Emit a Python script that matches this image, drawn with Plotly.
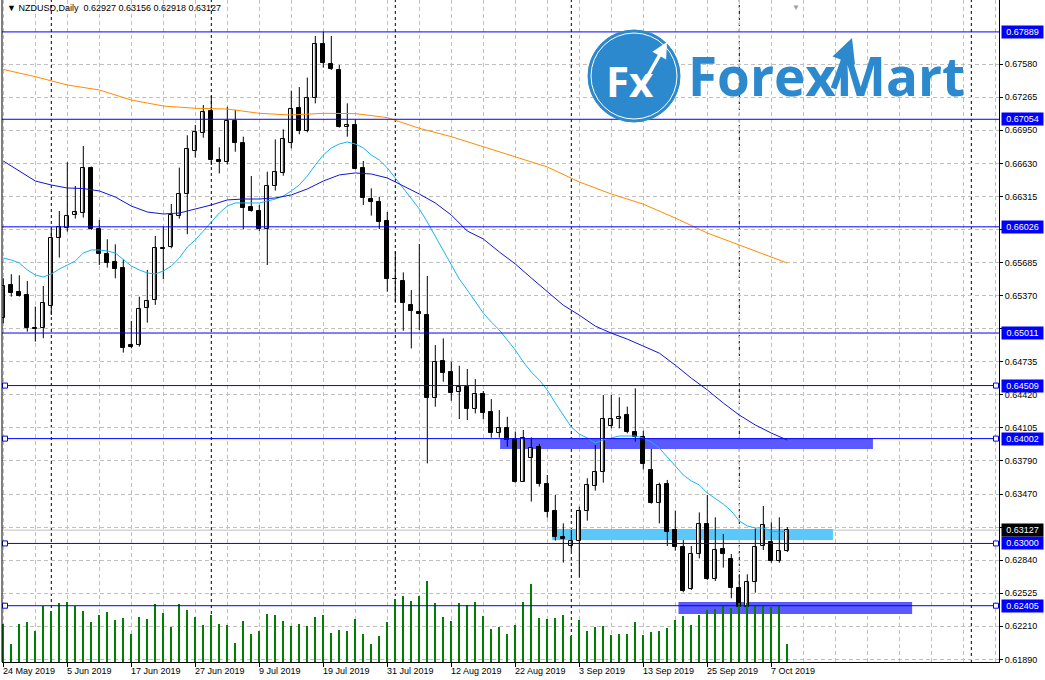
import plotly.graph_objects as go

# ---------------- data ----------------
symbol_header = "\u25BC NZDUSD,Daily  0.62927 0.63156 0.62918 0.63127"

tick_idx = [0, 8, 16, 24, 32, 40, 48, 56, 64, 72, 80, 88, 96]
tick_labels = ["24 May 2019", "5 Jun 2019", "17 Jun 2019", "27 Jun 2019", "9 Jul 2019",
               "19 Jul 2019", "31 Jul 2019", "12 Aug 2019", "22 Aug 2019", "3 Sep 2019",
               "13 Sep 2019", "25 Sep 2019", "7 Oct 2019"]

open_ = [0.65152, 0.65471, 0.65404, 0.65375, 0.65057, 0.65057, 0.65273, 0.65917, 0.66012, 0.66137,
         0.66156, 0.66592, 0.66006, 0.65767, 0.65691, 0.65633, 0.64897, 0.64894, 0.65248, 0.65324,
         0.65824, 0.65837, 0.66130, 0.66337, 0.66748, 0.66926, 0.67133, 0.66665, 0.66649, 0.67037,
         0.66824, 0.66215, 0.66177, 0.66005, 0.66419, 0.66544, 0.66824, 0.67159, 0.66945, 0.67254,
         0.67770, 0.67579, 0.67525, 0.66977, 0.66999, 0.66585, 0.66292, 0.66260, 0.66082, 0.65530,
         0.65508, 0.65279, 0.65212, 0.65183, 0.64393, 0.64743, 0.64635, 0.64450, 0.64498, 0.64288,
         0.64425, 0.64253, 0.64052, 0.64100, 0.63995, 0.63591, 0.63814, 0.63919, 0.63565, 0.63307,
         0.63059, 0.62976, 0.63027, 0.63314, 0.63553, 0.63680, 0.64126, 0.64187, 0.64228, 0.64062,
         0.64014, 0.63702, 0.63384, 0.63568, 0.63129, 0.62963, 0.62561, 0.62896, 0.63186, 0.62657,
         0.62947, 0.62851, 0.62577, 0.62389, 0.62628, 0.62976, 0.63011, 0.62835, 0.62927]
high = [0.65534, 0.65573, 0.65563, 0.65509, 0.65264, 0.65461, 0.66012, 0.66178, 0.66643, 0.66417,
        0.66799, 0.66602, 0.66092, 0.65907, 0.65859, 0.65716, 0.65127, 0.65359, 0.65614, 0.65939,
        0.66028, 0.66245, 0.66592, 0.66901, 0.67000, 0.67190, 0.67276, 0.66786, 0.67174, 0.67143,
        0.66888, 0.66512, 0.66235, 0.66553, 0.66862, 0.66958, 0.67327, 0.67362, 0.67452, 0.67850,
        0.67891, 0.67850, 0.67573, 0.67206, 0.67053, 0.66655, 0.66394, 0.66314, 0.66168, 0.65788,
        0.65591, 0.65422, 0.65862, 0.65556, 0.64896, 0.64960, 0.64737, 0.64699, 0.64667, 0.64571,
        0.64457, 0.64380, 0.64275, 0.64211, 0.64070, 0.64085, 0.64014, 0.63951, 0.63654, 0.63463,
        0.63192, 0.63129, 0.63352, 0.63623, 0.63941, 0.64419, 0.64419, 0.64397, 0.64308, 0.64483,
        0.64078, 0.63903, 0.63581, 0.63607, 0.63314, 0.63033, 0.62976, 0.63297, 0.63463, 0.63250,
        0.63090, 0.62899, 0.62705, 0.62705, 0.63144, 0.63358, 0.63202, 0.63250, 0.63156]
low = [0.65104, 0.65359, 0.65359, 0.65025, 0.64929, 0.64961, 0.65184, 0.65732, 0.65981, 0.66105,
       0.66114, 0.65996, 0.65662, 0.65636, 0.65534, 0.64824, 0.64865, 0.64881, 0.65111, 0.65280,
       0.65525, 0.65821, 0.66105, 0.65955, 0.66688, 0.66878, 0.66617, 0.66537, 0.66623, 0.66744,
       0.66005, 0.66171, 0.65986, 0.65661, 0.66372, 0.66515, 0.66776, 0.66910, 0.66929, 0.67206,
       0.67547, 0.67525, 0.66974, 0.66888, 0.66576, 0.66235, 0.66133, 0.66005, 0.65406, 0.65301,
       0.65033, 0.64864, 0.65040, 0.63765, 0.64307, 0.64546, 0.64364, 0.64189, 0.64179, 0.64243,
       0.64186, 0.64011, 0.64011, 0.63925, 0.63581, 0.63588, 0.63400, 0.63543, 0.63247, 0.63027,
       0.62817, 0.62928, 0.62673, 0.63218, 0.63505, 0.63581, 0.64100, 0.64100, 0.64053, 0.63973,
       0.63709, 0.63380, 0.63192, 0.62976, 0.62931, 0.62533, 0.62555, 0.62858, 0.62651, 0.62641,
       0.62769, 0.62475, 0.62386, 0.62386, 0.62530, 0.62937, 0.62816, 0.62816, 0.62918]
close = [0.65461, 0.65391, 0.65369, 0.65057, 0.65047, 0.65296, 0.65917, 0.66022, 0.66127, 0.66165,
         0.66586, 0.66006, 0.65764, 0.65684, 0.65627, 0.64865, 0.64881, 0.65238, 0.65315, 0.65821,
         0.65818, 0.66140, 0.66337, 0.66767, 0.66930, 0.67120, 0.66665, 0.66649, 0.67037, 0.66824,
         0.66203, 0.66180, 0.66005, 0.66413, 0.66547, 0.66862, 0.67149, 0.66942, 0.67254, 0.67770,
         0.67589, 0.67531, 0.66977, 0.66999, 0.66579, 0.66298, 0.66260, 0.66075, 0.65527, 0.65524,
         0.65301, 0.65224, 0.65189, 0.64393, 0.64737, 0.64632, 0.64441, 0.64492, 0.64285, 0.64425,
         0.64250, 0.64052, 0.64100, 0.63988, 0.63591, 0.64005, 0.63909, 0.63568, 0.63304, 0.63065,
         0.63040, 0.63027, 0.63314, 0.63559, 0.63680, 0.64187, 0.64187, 0.64206, 0.64069, 0.64021,
         0.63756, 0.63384, 0.63559, 0.63113, 0.62969, 0.62549, 0.62896, 0.63186, 0.62660, 0.62937,
         0.62896, 0.62571, 0.62389, 0.62628, 0.62963, 0.63176, 0.62835, 0.62928, 0.63127]
tick_volume = [3800, 1800, 3800, 4000, 3100, 5600, 5100, 5900, 6000, 5600,
               5100, 4000, 4700, 5000, 4200, 4400, 2800, 4500, 4300, 5800,
               4900, 3500, 5800, 5200, 4500, 3700, 4700, 3800, 3700, 1900,
               4100, 2800, 3100, 4800, 4700, 4100, 3600, 3800, 3600, 4500,
               4700, 2900, 3200, 3100, 4300, 2800, 1800, 2600, 4000, 6300,
               6600, 6100, 6600, 8100, 5900, 4500, 4100, 5900, 5700, 6000,
               4600, 3300, 3500, 2800, 3700, 6000, 7800, 4400, 4300, 4400,
               4700, 2600, 4200, 3100, 3500, 3600, 2700, 2800, 2800, 4000,
               2700, 3000, 3100, 3400, 4200, 4600, 3700, 4700, 5200, 5300,
               5700, 5400, 5900, 5900, 5700, 5700, 5500, 5600, 1800]

ma_fast = [0.65728, 0.65709, 0.65680, 0.65614, 0.65566, 0.65547, 0.65575, 0.65623, 0.65661, 0.65700,
           0.65776, 0.65805, 0.65805, 0.65795, 0.65776, 0.65718, 0.65652, 0.65614, 0.65585, 0.65575,
           0.65604, 0.65652, 0.65728, 0.65833, 0.65900, 0.65986, 0.66072, 0.66158, 0.66225, 0.66254,
           0.66254, 0.66254, 0.66254, 0.66273, 0.66292, 0.66321, 0.66369, 0.66426, 0.66512, 0.66617,
           0.66713, 0.66780, 0.66818, 0.66837, 0.66818, 0.66780, 0.66713, 0.66665, 0.66589, 0.66493,
           0.66398, 0.66292, 0.66197, 0.66072, 0.65938, 0.65805, 0.65661, 0.65527, 0.65422, 0.65307,
           0.65202, 0.65116, 0.65040, 0.64944, 0.64849, 0.64734, 0.64638, 0.64562, 0.64466, 0.64342,
           0.64227, 0.64113, 0.64046, 0.64008, 0.63960, 0.63989, 0.64008, 0.64027, 0.64027, 0.64027,
           0.64008, 0.63970, 0.63912, 0.63826, 0.63740, 0.63654, 0.63597, 0.63559, 0.63482, 0.63425,
           0.63377, 0.63310, 0.63215, 0.63167, 0.63148, 0.63148, 0.63119, 0.63109, 0.63119]

ma_slow_idx = list(range(0, 99, 2))
ma_slow = [0.66655, 0.66560, 0.66464, 0.66426, 0.66397, 0.66392, 0.66369, 0.66311, 0.66225, 0.66168,
           0.66149, 0.66158, 0.66197, 0.66235, 0.66283, 0.66292, 0.66292, 0.66302, 0.66331, 0.66388,
           0.66464, 0.66522, 0.66541, 0.66531, 0.66493, 0.66416, 0.66340, 0.66254, 0.66139, 0.65986,
           0.65910, 0.65786, 0.65671, 0.65537, 0.65403, 0.65277, 0.65182, 0.65077, 0.65010, 0.64953,
           0.64886, 0.64819, 0.64704, 0.64580, 0.64467, 0.64342, 0.64227, 0.64132, 0.64055, 0.63988]

ma_long_idx = list(range(0, 97, 4)) + [98]
ma_long = [0.67530, 0.67461, 0.67382, 0.67334, 0.67238, 0.67181, 0.67159, 0.67152, 0.67111, 0.67095,
           0.67111, 0.67108, 0.67070, 0.66968, 0.66888, 0.66792, 0.66697, 0.66598, 0.66455, 0.66340,
           0.66243, 0.66110, 0.65967, 0.65852, 0.65737, 0.65680]

levels = [0.67889, 0.67054, 0.66026, 0.65011]
handle_levels = [0.64509, 0.64002, 0.63000, 0.62405]
last_price = 0.63127

price_ticks = [0.67580, 0.67265, 0.66950, 0.66630, 0.66315, 0.66000, 0.65685, 0.65370, 0.65050,
               0.64735, 0.64420, 0.64105, 0.63790, 0.63470, 0.63155, 0.62840, 0.62525, 0.62210, 0.61890]
hidden_ticks = [0.66000, 0.65050, 0.63155]   # covered by the level labels

# zones: (start bar, end bar, low price, high price, colour)
zone_start = [62.1, 68.6, 84.4]
zone_end = [108.7, 103.7, 113.6]
zone_low = [0.63903, 0.63033, 0.62326]
zone_high = [0.64002, 0.63138, 0.62440]
zone_color = ["#5a5aff", "#5ac8fa", "#5a5aff"]

month_separators = [6, 26, 49, 71, 92, 121]

# ---------------- layout constants ----------------
W, H = 1045, 680
ML, MR, MT, MB = 2, 46, 0, 18
PW, PH = W - ML - MR, H - MT - MB
X_RANGE = [-0.1625, 124.46]
Y_RANGE = [0.61867, 0.68194]
FONT = "Liberation Sans"
BLUE = "#0000ff"
LOGO = "#2d89cd"
GRID = "#c0c0c0"


def px(xp):
    return (xp - ML) / PW


def py(yp):
    return 1 - (yp - MT) / PH


n = len(open_)
bars = list(range(n))

fig = go.Figure()

# volume
fig.add_trace(go.Bar(x=bars, y=tick_volume, yaxis="y2", width=0.12,
                     marker=dict(color="#008000", line=dict(width=0)), hoverinfo="skip"))

# wicks
wx, wy = [], []
for i in bars:
    wx += [i, i, None]
    wy += [low[i], high[i], None]
fig.add_trace(go.Scatter(x=wx, y=wy, mode="lines", line=dict(color="black", width=1),
                         hoverinfo="skip"))

# bodies
min_h = 0.00002
bull = [i for i in bars if close[i] >= open_[i]]
bear = [i for i in bars if close[i] < open_[i]]
fig.add_trace(go.Bar(x=bull, base=[open_[i] for i in bull],
                     y=[max(close[i] - open_[i], min_h) for i in bull], width=0.5,
                     marker=dict(color="white", line=dict(color="black", width=1))))
fig.add_trace(go.Bar(x=bear, base=[close[i] for i in bear],
                     y=[max(open_[i] - close[i], min_h) for i in bear], width=0.5,
                     marker=dict(color="black", line=dict(color="black", width=1))))

# moving averages
fig.add_trace(go.Scatter(x=bars, y=ma_fast, mode="lines", line=dict(color="#1ab4f0", width=1)))
fig.add_trace(go.Scatter(x=ma_slow_idx, y=ma_slow, mode="lines", line=dict(color="#1414d2", width=1)))
fig.add_trace(go.Scatter(x=ma_long_idx, y=ma_long, mode="lines", line=dict(color="#ff8c00", width=1)))

shapes = []
# current price line (behind zones)
shapes.append(dict(type="line", xref="paper", x0=0, x1=1, yref="y", y0=last_price, y1=last_price,
                   line=dict(color="#c0c0c0", width=1), layer="between"))
# zones
for x0, x1, y0, y1, c in zip(zone_start, zone_end, zone_low, zone_high, zone_color):
    shapes.append(dict(type="rect", xref="x", x0=x0, x1=x1, yref="y", y0=y0, y1=y1,
                       fillcolor=c, line=dict(width=0), layer="between"))
# month separators
for s in month_separators:
    shapes.append(dict(type="line", xref="x", x0=s, x1=s, yref="paper", y0=0, y1=1,
                       line=dict(color="black", width=1, dash="3px,3px"), layer="between"))
# horizontal levels
for lv in levels + handle_levels:
    shapes.append(dict(type="line", xref="paper", x0=0, x1=1, yref="y", y0=lv, y1=lv,
                       line=dict(color=BLUE, width=1)))
for lv in handle_levels:
    for xa in (px(5), px(996)):
        shapes.append(dict(type="rect", xref="paper", xsizemode="pixel", xanchor=xa, x0=-2.5, x1=2.5,
                           yref="y", ysizemode="pixel", yanchor=lv, y0=-2.5, y1=2.5,
                           fillcolor="white", line=dict(color=BLUE, width=1)))
# left frame
shapes.append(dict(type="line", xref="paper", x0=0, x1=0, yref="paper", y0=0, y1=1,
                   line=dict(color="black", width=1)))

# logo
shapes.append(dict(type="circle", xref="paper", yref="paper", x0=px(588), x1=px(680), y0=py(122), y1=py(30),
                   fillcolor=LOGO, line=dict(color=LOGO, width=1)))
shapes.append(dict(type="circle", xref="paper", yref="paper", x0=px(591), x1=px(677), y0=py(119), y1=py(33),
                   fillcolor="rgba(0,0,0,0)", line=dict(color="white", width=1)))

annotations = []
annotations.append(dict(text=symbol_header, xref="paper", yref="paper", x=px(5), y=py(8),
                        xanchor="left", yanchor="middle", showarrow=False,
                        font=dict(family=FONT, size=9, color="black")))
for t, lab in zip(tick_idx, tick_labels):
    annotations.append(dict(text=lab, xref="x", x=t, yref="paper", y=0, xanchor="left", yanchor="top",
                            xshift=-2, yshift=-2, showarrow=False,
                            font=dict(family=FONT, size=9, color="black")))
for lv in levels + handle_levels:
    annotations.append(dict(text=f"{lv:.5f}", xref="paper", x=1, xanchor="left", xshift=2,
                            yref="y", y=lv, yanchor="middle", showarrow=False, width=39, align="center",
                            bgcolor=BLUE, borderpad=1, font=dict(family=FONT, size=9, color="white")))
annotations.append(dict(text=f"{last_price:.5f}", xref="paper", x=1, xanchor="left", xshift=2,
                        yref="y", y=last_price, yanchor="middle", showarrow=False, width=39, align="center",
                        bgcolor="black", borderpad=1, font=dict(family=FONT, size=9, color="white")))
# chart-shift marker
annotations.append(dict(text="\u25BC", xref="paper", yref="paper", x=px(796), y=py(7), showarrow=False,
                        xanchor="center", yanchor="middle", font=dict(size=8, color="#a0a0a0")))
# logo texts
annotations.append(dict(text="<b>Fx</b>", xref="paper", yref="paper", x=px(630), y=py(80), showarrow=False,
                        xanchor="center", yanchor="middle",
                        font=dict(family="Open Sans", size=42, color="white")))
annotations.append(dict(text="", xref="paper", yref="paper", x=px(667), y=py(42), ax=-26, ay=46,
                        showarrow=True, arrowhead=2, arrowsize=0.9, arrowwidth=3.5, arrowcolor="white"))
annotations.append(dict(text="<b>ForexMart</b>", xref="paper", yref="paper", x=px(686), y=py(75),
                        xanchor="left", yanchor="middle", showarrow=False,
                        font=dict(family="Open Sans", size=53, color=LOGO)))
annotations.append(dict(text="", xref="paper", yref="paper", x=px(852), y=py(38), ax=-19, ay=52,
                        showarrow=True, arrowhead=2, arrowsize=0.8, arrowwidth=6, arrowcolor=LOGO))

fig.update_layout(
    width=W, height=H, autosize=False,
    margin=dict(l=ML, r=MR, t=MT, b=MB, pad=0),
    paper_bgcolor="white", plot_bgcolor="white",
    showlegend=False, barmode="overlay", bargap=0,
    shapes=shapes, annotations=annotations,
    xaxis=dict(range=X_RANGE, tickmode="array", tickvals=tick_idx, showticklabels=False,
               ticks="outside", ticklen=4, tickcolor="black", showline=True, linecolor="black",
               linewidth=1, showgrid=True, gridcolor=GRID, griddash="4px,3px", zeroline=False,
               minor=dict(tickmode="linear", tick0=0, dtick=4, showgrid=True, gridcolor=GRID,
                          griddash="4px,3px", ticks="")),
    yaxis=dict(range=Y_RANGE, side="right", tickmode="array", tickvals=price_ticks,
               ticktext=["" if v in hidden_ticks else f"{v:.5f}" for v in price_ticks],
               ticks="outside", ticklen=3,
               tickcolor="black", showline=True, linecolor="black", linewidth=1,
               showgrid=True, gridcolor=GRID, griddash="4px,3px", zeroline=False,
               tickfont=dict(family=FONT, size=9, color="black")),
    yaxis2=dict(range=[0, 66200], overlaying="y", visible=False),
)

fig.write_html("out.html", config={"displayModeBar": False},
               post_script="document.body.style.margin='0';document.body.style.overflow='hidden';")
